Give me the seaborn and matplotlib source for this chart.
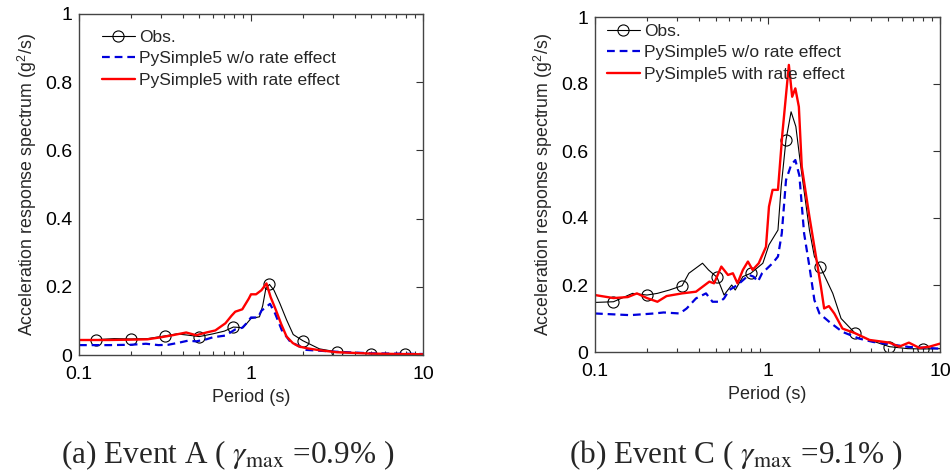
import numpy as np
import pandas as pd
import matplotlib
matplotlib.use("Agg")
import matplotlib.pyplot as plt
import seaborn as sns
from matplotlib.ticker import FixedLocator, LogLocator, FuncFormatter, NullFormatter

# ---------------- data ----------------
# Event A
obs_a_T = [0.1, 0.126, 0.16, 0.2, 0.25, 0.316, 0.37, 0.45, 0.5, 0.6, 0.7, 0.79, 0.9, 1.0,
           1.12, 1.17, 1.22, 1.28, 1.36, 1.47, 1.61, 1.76, 2.0, 2.5, 3.16, 4.0, 5.0, 6.3, 7.9, 10]
obs_a_V = [0.044, 0.045, 0.048, 0.047, 0.048, 0.056, 0.062, 0.057, 0.054, 0.062, 0.070, 0.082, 0.080, 0.107,
           0.112, 0.145, 0.195, 0.207, 0.190, 0.152, 0.103, 0.060, 0.042, 0.018, 0.009, 0.006, 0.004, 0.003, 0.002, 0.002]
obs_a_mark_T = [0.126, 0.2, 0.316, 0.5, 0.79, 1.28, 2.0, 3.16, 5.0, 7.9]

rate_a_T = [0.1, 0.15, 0.2, 0.25, 0.3, 0.35, 0.42, 0.48, 0.55, 0.62, 0.71, 0.77, 0.81, 0.89, 0.97, 1.0,
            1.07, 1.15, 1.23, 1.3, 1.4, 1.5, 1.61, 1.75, 1.9, 2.1, 2.5, 3.16, 4, 5, 7, 10]
rate_a_V = [0.044, 0.044, 0.045, 0.046, 0.052, 0.058, 0.066, 0.058, 0.066, 0.072, 0.093, 0.115, 0.127, 0.134, 0.165, 0.178,
            0.178, 0.190, 0.210, 0.170, 0.130, 0.090, 0.054, 0.035, 0.025, 0.020, 0.014, 0.008, 0.006, 0.004, 0.003, 0.002]

norate_a_T = [0.1, 0.15, 0.2, 0.245, 0.29, 0.33, 0.38, 0.43, 0.48, 0.55, 0.6, 0.71, 0.81, 0.89, 0.95, 1.0,
              1.1, 1.15, 1.22, 1.29, 1.38, 1.51, 1.69, 2.1, 3.0, 5, 10]
norate_a_V = [0.029, 0.029, 0.030, 0.033, 0.029, 0.030, 0.036, 0.042, 0.040, 0.046, 0.052, 0.057, 0.075, 0.080, 0.095, 0.110,
              0.110, 0.130, 0.140, 0.150, 0.122, 0.073, 0.039, 0.015, 0.010, 0.005, 0.003]

# Event C
obs_c_T = [0.1, 0.128, 0.165, 0.2, 0.23, 0.27, 0.32, 0.35, 0.42, 0.455, 0.51, 0.56, 0.62, 0.65, 0.72, 0.80,
           0.94, 1.02, 1.15, 1.2, 1.28, 1.37, 1.46, 1.56, 1.75, 1.87, 2.02, 2.39, 2.67, 3.22, 3.9, 5.08, 6.5, 8.0, 10]
obs_c_V = [0.148, 0.150, 0.175, 0.170, 0.175, 0.185, 0.198, 0.235, 0.265, 0.245, 0.223, 0.170, 0.200, 0.185, 0.225, 0.235,
           0.265, 0.320, 0.364, 0.493, 0.633, 0.717, 0.673, 0.553, 0.364, 0.285, 0.255, 0.175, 0.100, 0.056, 0.036, 0.016, 0.010, 0.009, 0.010]
obs_c_mark_T = [0.128, 0.2, 0.32, 0.51, 0.80, 1.28, 2.02, 3.22, 5.08, 8.0]

rate_c_T = [0.1, 0.128, 0.155, 0.175, 0.2, 0.23, 0.26, 0.32, 0.385, 0.46, 0.49, 0.54, 0.59, 0.63, 0.67, 0.72,
            0.77, 0.82, 0.89, 0.98, 1.02, 1.07, 1.15, 1.22, 1.33, 1.39, 1.45, 1.52, 1.58, 1.75, 1.91, 2.04,
            2.13, 2.27, 2.44, 2.72, 3.22, 3.9, 5.08, 5.8, 6.6, 7.6, 8.7, 10]
rate_c_V = [0.170, 0.161, 0.164, 0.175, 0.161, 0.150, 0.167, 0.175, 0.180, 0.210, 0.205, 0.255, 0.230, 0.235, 0.205, 0.245,
            0.270, 0.245, 0.265, 0.314, 0.434, 0.484, 0.484, 0.653, 0.857, 0.762, 0.787, 0.732, 0.553, 0.404, 0.285, 0.195,
            0.130, 0.137, 0.115, 0.070, 0.056, 0.036, 0.028, 0.016, 0.028, 0.012, 0.016, 0.025]

norate_c_T = [0.1, 0.16, 0.22, 0.25, 0.31, 0.34, 0.385, 0.44, 0.48, 0.53, 0.56, 0.6, 0.67, 0.78, 0.83, 0.88,
              0.93, 1.07, 1.15, 1.21, 1.28, 1.37, 1.45, 1.53, 1.63, 1.75, 1.87, 2.0, 2.28, 2.72, 3.4, 4.1, 6.6, 10]
norate_c_V = [0.115, 0.110, 0.115, 0.118, 0.115, 0.130, 0.160, 0.175, 0.150, 0.150, 0.160, 0.185, 0.200, 0.230, 0.225, 0.210,
              0.235, 0.265, 0.285, 0.354, 0.513, 0.558, 0.573, 0.527, 0.354, 0.255, 0.155, 0.115, 0.090, 0.060, 0.040, 0.030, 0.015, 0.010]

labels = ["Obs.", "PySimple5 w/o rate effect", "PySimple5 with rate effect"]
captions = [r"(a) Event A ( $\gamma_{\mathrm{max}}$ =0.9% )", r"(b) Event C ( $\gamma_{\mathrm{max}}$ =9.1% )"]
y_ticks = [0, 0.2, 0.4, 0.6, 0.8, 1]
x_ticks = [0.1, 1, 10]

# ---------------- style ----------------
sns.set_theme(style="white")
plt.rcParams["font.family"] = ["Liberation Sans", "DejaVu Sans"]
plt.rcParams["mathtext.fontset"] = "stix"

fig = plt.figure(figsize=(9.52, 4.73), dpi=100)
ax_a = fig.add_axes([79/952, 1-355/473, (423-79)/952, (355-14)/473])
ax_c = fig.add_axes([595/952, 1-352/473, (940-595)/952, (352-17)/473])

panels = [
    (ax_a, obs_a_T, obs_a_V, obs_a_mark_T, norate_a_T, norate_a_V, rate_a_T, rate_a_V, (23, 21)),
    (ax_c, obs_c_T, obs_c_V, obs_c_mark_T, norate_c_T, norate_c_V, rate_c_T, rate_c_V, (12, 12)),
]

for i, (ax, oT, oV, mT, nT, nV, rT, rV, legoff) in enumerate(panels):
    mark_idx = [int(np.argmin(np.abs(np.array(oT) - t))) for t in mT]
    sns.lineplot(x=oT, y=oV, ax=ax, color="black", lw=0.8, marker="o", markevery=mark_idx,
                 markersize=8, markerfacecolor="none", markeredgecolor="black", markeredgewidth=0.8,
                 sort=False, estimator=None, label=labels[0])
    sns.lineplot(x=nT, y=nV, ax=ax, color="#0000dd", lw=1.6, sort=False, estimator=None,
                 label=labels[1], dashes=False)
    ax.lines[-1].set_dashes([3.5, 2.2])
    sns.lineplot(x=rT, y=rV, ax=ax, color="#ff0000", lw=1.7, sort=False, estimator=None, label=labels[2])

    ax.set_xscale("log")
    ax.set_xlim(0.1, 10)
    ax.set_ylim(0, 1)
    ax.xaxis.set_major_locator(FixedLocator(x_ticks))
    ax.xaxis.set_minor_locator(LogLocator(base=10, subs=np.arange(2, 10)))
    ax.xaxis.set_major_formatter(FuncFormatter(lambda v, p: f"{v:g}"))
    ax.xaxis.set_minor_formatter(NullFormatter())
    ax.yaxis.set_major_locator(FixedLocator(y_ticks))
    ax.yaxis.set_major_formatter(FuncFormatter(lambda v, p: f"{v:g}"))
    ax.tick_params(axis="both", which="major", direction="in", length=5, width=0.8,
                   top=True, right=True, labelsize=14, colors="#333333", labelcolor="black", pad=5)
    ax.tick_params(axis="x", which="minor", direction="in", length=3, width=0.8, top=True, bottom=True,
                   colors="#333333")
    ax.tick_params(axis="x", which="major", pad=8)
    for s in ax.spines.values():
        s.set_color("#444444")
        s.set_linewidth(1.0)
    ax.set_xlabel("Period (s)", fontsize=13, labelpad=4)
    ax.set_ylabel(r"Acceleration response spectrum (g$^{\mathregular{2}}$/s)", fontsize=12.8, labelpad=4)

    w = ax.get_window_extent().width
    h = ax.get_window_extent().height
    ax.legend(loc="upper left", bbox_to_anchor=(legoff[0]/w, 1 - (legoff[1] - 5)/h), frameon=False,
              fontsize=12.5, handlelength=1.9, handletextpad=0.25, labelspacing=0.35,
              borderaxespad=0, borderpad=0)

fig.text(228/952, 1-463/473, captions[0], ha="center", va="baseline", fontsize=22.5,
         family=["Liberation Serif", "DejaVu Serif"])
fig.text(736/952, 1-463/473, captions[1], ha="center", va="baseline", fontsize=22.5,
         family=["Liberation Serif", "DejaVu Serif"])

fig.savefig("out.png", dpi=100)
